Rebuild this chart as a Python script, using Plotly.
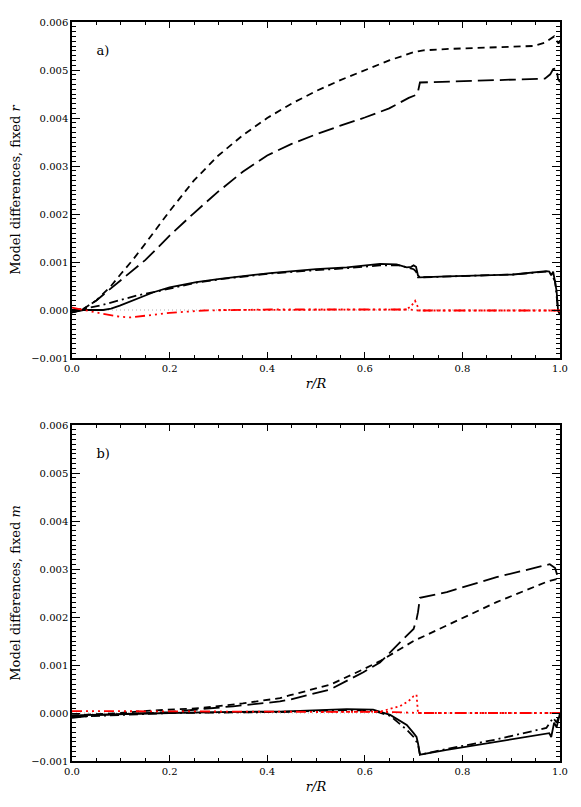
import plotly.graph_objects as go

# ---- panel a) fixed r  (values in units of 1e-3) ----
a_short_x = [0.0, 0.02, 0.05, 0.08, 0.1, 0.125, 0.15, 0.175, 0.2, 0.25, 0.3, 0.35, 0.4, 0.45,
             0.5, 0.55, 0.6, 0.65, 0.7, 0.72, 0.775, 0.877, 0.945, 0.969, 0.983, 0.988, 0.993, 0.997, 1.0]
a_short_y = [-0.05, 0.0, 0.2, 0.5, 0.75, 1.05, 1.38, 1.72, 2.06, 2.70, 3.22, 3.64, 4.0, 4.30,
             4.56, 4.79, 5.0, 5.2, 5.37, 5.41, 5.44, 5.48, 5.50, 5.57, 5.68, 5.70, 5.61, 5.55, 5.62]

a_long_x = [0.0, 0.02, 0.05, 0.08, 0.1, 0.125, 0.15, 0.175, 0.2, 0.25, 0.3, 0.35, 0.4, 0.45,
            0.5, 0.55, 0.6, 0.65, 0.69, 0.705, 0.709, 0.713, 0.75, 0.8, 0.9, 0.969, 0.98, 0.986,
            0.993, 0.996, 1.0]
a_long_y = [-0.05, 0.0, 0.2, 0.45, 0.62, 0.82, 1.04, 1.29, 1.55, 2.02, 2.47, 2.88, 3.22, 3.46,
            3.66, 3.84, 4.01, 4.2, 4.42, 4.48, 4.55, 4.74, 4.75, 4.76, 4.79, 4.82, 4.91, 5.02,
            5.03, 4.81, 4.75]

a_solid_x = [0.0, 0.023, 0.064, 0.08, 0.098, 0.132, 0.167, 0.2, 0.255, 0.303, 0.406, 0.5, 0.563,
             0.631, 0.665, 0.686, 0.695, 0.7, 0.705, 0.709, 0.713, 0.768, 0.904, 0.972, 0.978,
             0.982, 0.986, 0.993, 0.996, 1.0]
a_solid_y = [-0.05, 0.0, 0.0, 0.03, 0.09, 0.23, 0.37, 0.47, 0.58, 0.65, 0.77, 0.85, 0.89,
             0.96, 0.95, 0.89, 0.90, 0.93, 0.90, 0.72, 0.68, 0.70, 0.74, 0.81, 0.80,
             0.72, 0.80, 0.40, -0.01, -0.1]

a_dashdot_x = [0.0, 0.023, 0.064, 0.098, 0.132, 0.167, 0.2, 0.255, 0.303, 0.406, 0.5, 0.563,
               0.631, 0.67, 0.69, 0.7, 0.705, 0.709, 0.713, 0.768, 0.904, 0.972, 0.982, 0.99,
               0.996, 1.0]
a_dashdot_y = [0.0, 0.02, 0.11, 0.21, 0.30, 0.37, 0.44, 0.57, 0.64, 0.76, 0.83, 0.87,
               0.93, 0.93, 0.88, 0.85, 0.80, 0.68, 0.68, 0.70, 0.74, 0.80, 0.75, 0.6,
               0.0, -0.1]

a_red_x = [0.0, 0.023, 0.064, 0.098, 0.119, 0.167, 0.2, 0.27, 0.338, 0.406, 0.6, 0.69, 0.71, 1.0]
a_red_y = [0.05, 0.0, -0.08, -0.14, -0.155, -0.10, -0.06, -0.01, 0.0, 0.01, 0.01, 0.01, -0.01, -0.01]

a_reddot_x = [0.3, 0.6, 0.685, 0.695, 0.703, 0.707, 0.712, 1.0]
a_reddot_y = [0.0, 0.01, 0.01, 0.08, 0.19, 0.10, -0.01, -0.01]

# ---- panel b) fixed m ----
b_short_x = [0.0, 0.1, 0.16, 0.262, 0.35, 0.426, 0.447, 0.529, 0.597, 0.631, 0.70, 0.768, 0.87,
             0.972, 0.993, 1.0]
b_short_y = [-0.05, 0.0, 0.05, 0.10, 0.2, 0.31, 0.37, 0.59, 0.91, 1.08, 1.50, 1.82, 2.31,
             2.73, 2.79, 2.85]

b_long_x = [0.0, 0.057, 0.16, 0.2, 0.33, 0.426, 0.447, 0.529, 0.597, 0.631, 0.672, 0.69, 0.70,
            0.706, 0.709, 0.713, 0.768, 0.87, 0.972, 0.979, 0.99, 0.995, 1.0]
b_long_y = [-0.10, -0.04, 0.0, 0.02, 0.14, 0.24, 0.28, 0.49, 0.85, 1.05, 1.47, 1.65, 1.75,
            1.95, 2.10, 2.40, 2.52, 2.83, 3.09, 3.10, 3.02, 2.85, 2.9]

b_solid_x = [0.0, 0.1, 0.2, 0.3, 0.426, 0.563, 0.617, 0.652, 0.686, 0.70, 0.706, 0.709, 0.713,
             0.768, 0.87, 0.972, 0.978, 0.982, 0.988, 0.993, 1.0]
b_solid_y = [-0.05, -0.02, 0.0, 0.02, 0.03, 0.08, 0.07, -0.04, -0.25, -0.42, -0.5, -0.63, -0.87,
             -0.77, -0.60, -0.42, -0.42, -0.5, -0.2, -0.3, 0.0]

b_dashdot_x = [0.0, 0.2, 0.426, 0.563, 0.617, 0.652, 0.686, 0.70, 0.709, 0.713, 0.768, 0.87,
               0.972, 0.986, 0.993, 1.0]
b_dashdot_y = [-0.08, 0.0, 0.02, 0.06, 0.05, -0.06, -0.35, -0.5, -0.65, -0.87, -0.75, -0.55,
               -0.31, -0.10, -0.2, 0.0]

b_red_x = [0.0, 0.3, 0.631, 0.66, 0.712, 1.0]
b_red_y = [0.04, 0.03, 0.02, 0.02, 0.0, 0.0]

b_reddot_x = [0.5, 0.631, 0.672, 0.69, 0.70, 0.706, 0.709, 1.0]
b_reddot_y = [0.02, 0.03, 0.14, 0.25, 0.35, 0.38, 0.0, 0.0]

FONT = "DejaVu Serif"
fig = go.Figure()


def add(x, y, color, dash, width, xa, ya):
    fig.add_trace(go.Scatter(x=x, y=[v * 1e-3 for v in y], mode="lines", xaxis=xa, yaxis=ya,
                             line=dict(color=color, dash=dash, width=width)))


for xa, ya in [("x", "y"), ("x2", "y2")]:
    # thin dotted zero line
    add([0.0, 1.0], [0.0, 0.0], "#999999", "1px,3px", 0.8, xa, ya)

series = {
    ("x", "y"): [(a_short_x, a_short_y), (a_long_x, a_long_y), (a_solid_x, a_solid_y),
                 (a_dashdot_x, a_dashdot_y), (a_red_x, a_red_y), (a_reddot_x, a_reddot_y)],
    ("x2", "y2"): [(b_short_x, b_short_y), (b_long_x, b_long_y), (b_solid_x, b_solid_y),
                   (b_dashdot_x, b_dashdot_y), (b_red_x, b_red_y), (b_reddot_x, b_reddot_y)],
}
styles = [("black", "7px,5px", 1.8), ("black", "16px,6px", 1.8), ("black", "solid", 1.8),
          ("black", "9px,4px,2px,4px", 1.8),
          ("red", "10px,4px,2px,4px,2px,4px,2px,4px", 1.8), ("red", "2px,3px", 1.8)]
for (xa, ya), lst in series.items():
    for (x, y), (c, d, w) in zip(lst, styles):
        add(x, y, c, d, w, xa, ya)

# panel letters as text marks inside each frame
for xa, ya, lab in [("x", "y", "a)"), ("x2", "y2", "b)")]:
    fig.add_trace(go.Scatter(x=[0.05], y=[0.00538], mode="text", text=[lab],
                             textposition="middle right", xaxis=xa, yaxis=ya,
                             textfont=dict(family=FONT, size=13, color="black")))

xax = dict(range=[0, 1], tickmode="linear", tick0=0, dtick=0.2, tickformat=".1f",
           ticks="inside", ticklen=6, tickwidth=1, tickcolor="black",
           showline=True, linecolor="black", linewidth=1.5, mirror="allticks",
           showgrid=False, zeroline=False, automargin=False,
           tickfont=dict(family=FONT, size=10, color="black"),
           title=dict(text="<i>r/R</i>", standoff=6, font=dict(family=FONT, size=13, color="black")),
           minor=dict(dtick=0.05, ticks="inside", ticklen=3, tickwidth=1, tickcolor="black",
                      showgrid=False))
yax = dict(range=[-0.001, 0.006], tickmode="linear", tick0=0, dtick=0.001, tickformat=".3f",
           ticks="inside", ticklen=8, tickwidth=1, tickcolor="black",
           showline=True, linecolor="black", linewidth=1.5, mirror="allticks",
           showgrid=False, zeroline=False, automargin=False,
           tickfont=dict(family=FONT, size=10, color="black"),
           minor=dict(dtick=0.0001, tick0=0, ticks="inside", ticklen=4, tickwidth=1,
                      tickcolor="black", showgrid=False))
ytitle = dict(standoff=12, font=dict(family=FONT, size=13, color="black"))

# page body has an 8px margin, so the figure is shrunk by 8px and margins shifted
fig.update_layout(
    width=573, height=799, plot_bgcolor="white", margin=dict(l=64, r=21, t=14, b=46),
    showlegend=False,
    xaxis=dict(xax, domain=[0, 1], anchor="y"),
    yaxis=dict(yax, domain=[403 / 739, 1.0], anchor="x",
               title=dict(ytitle, text="Model differences, fixed <i>r</i>")),
    xaxis2=dict(xax, domain=[0, 1], anchor="y2"),
    yaxis2=dict(yax, domain=[0.0, 336 / 739], anchor="x2",
                title=dict(ytitle, text="Model differences, fixed <i>m</i>")),
)

fig.write_html("out.html")
